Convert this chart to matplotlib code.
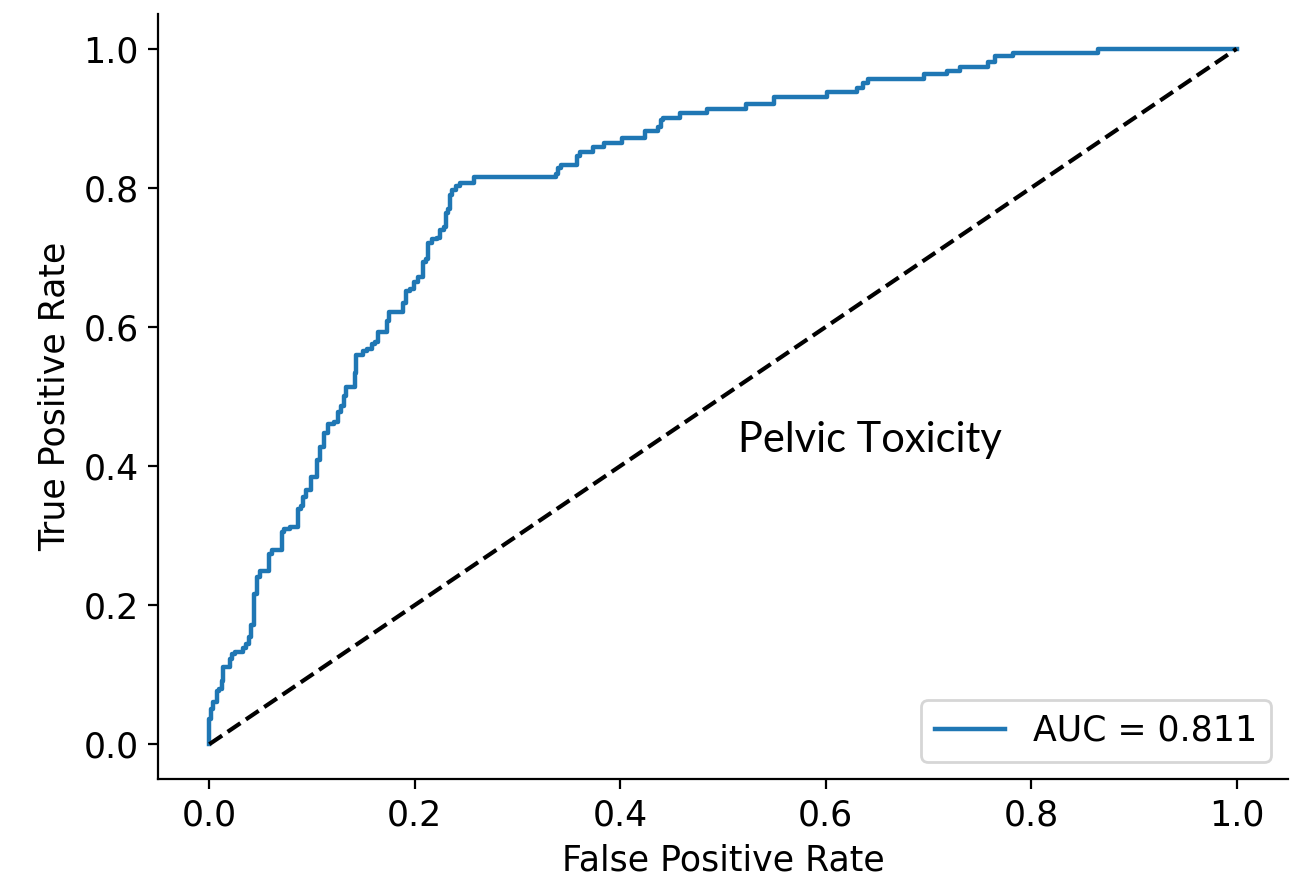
import matplotlib
matplotlib.use("Agg")
import matplotlib.pyplot as plt

# ROC step corners: false positive rate where TPR rises, and TPR level before rise
fpr = [0.000, 0.002, 0.004, 0.007, 0.009, 0.012, 0.013, 0.020, 0.022, 0.025,
       0.033, 0.036, 0.039, 0.041, 0.043, 0.046, 0.049, 0.058, 0.061, 0.071,
       0.073, 0.079, 0.086, 0.089, 0.091, 0.094, 0.099, 0.105, 0.108, 0.112,
       0.116, 0.121, 0.125, 0.128, 0.131, 0.133, 0.142, 0.143, 0.150, 0.153,
       0.158, 0.161, 0.164, 0.173, 0.175, 0.189, 0.191, 0.195, 0.199, 0.203,
       0.208, 0.211, 0.213, 0.217, 0.222, 0.225, 0.228, 0.230, 0.232, 0.234,
       0.236, 0.240, 0.244, 0.258, 0.337, 0.339, 0.342, 0.358, 0.361, 0.373,
       0.384, 0.402, 0.424, 0.437, 0.440, 0.442, 0.458, 0.484, 0.522, 0.550,
       0.601, 0.630, 0.636, 0.641, 0.696, 0.718, 0.731, 0.758, 0.765, 0.782,
       0.865, 1.000]
tpr = [0.000, 0.036, 0.050, 0.060, 0.076, 0.080, 0.091, 0.111, 0.122, 0.129,
       0.132, 0.139, 0.144, 0.154, 0.172, 0.216, 0.241, 0.249, 0.273, 0.279,
       0.305, 0.310, 0.312, 0.338, 0.342, 0.356, 0.366, 0.384, 0.409, 0.428,
       0.448, 0.460, 0.463, 0.478, 0.486, 0.500, 0.514, 0.534, 0.560, 0.565,
       0.568, 0.576, 0.579, 0.592, 0.608, 0.621, 0.635, 0.651, 0.654, 0.665,
       0.672, 0.693, 0.697, 0.721, 0.727, 0.728, 0.740, 0.743, 0.764, 0.770,
       0.790, 0.797, 0.803, 0.807, 0.815, 0.820, 0.828, 0.833, 0.846, 0.851,
       0.858, 0.864, 0.871, 0.882, 0.888, 0.898, 0.901, 0.908, 0.914, 0.920,
       0.931, 0.938, 0.944, 0.951, 0.957, 0.963, 0.968, 0.974, 0.981, 0.989,
       0.994, 1.000]
auc_value = 0.811
annotation = "Pelvic Toxicity"

plt.rcParams["font.size"] = 12.5

fig = plt.figure(figsize=(6.49, 4.415), dpi=200)
ax = fig.add_axes([0.1217, 0.1178, 0.8706, 0.8664])

ax.plot(fpr, tpr, drawstyle="steps-pre", color="#1f77b4", lw=1.6,
        label=f"AUC = {auc_value:.3f}")
ax.plot([0, 1], [0, 1], "k--", lw=1.5)
ax.text(0.515, 0.42, annotation, fontsize=15, family=["Lato", "DejaVu Sans"])

ax.set_xlabel("False Positive Rate")
ax.set_ylabel("True Positive Rate")
ax.spines["top"].set_visible(False)
ax.spines["right"].set_visible(False)
ax.legend(loc="lower right")

fig.savefig("out.png", dpi=200)
